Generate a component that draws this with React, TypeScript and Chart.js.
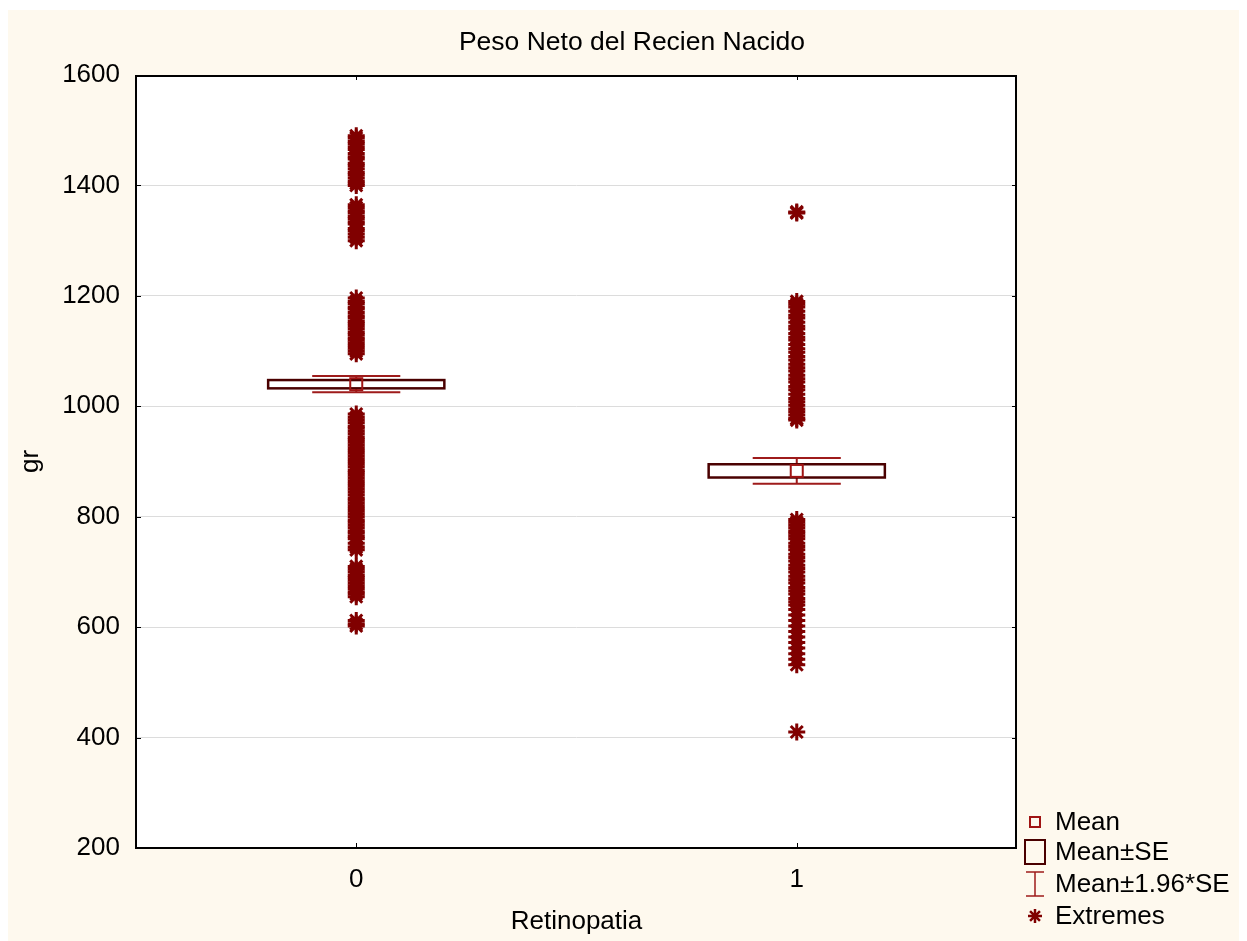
import React, { useEffect, useRef } from "react";
import { Chart, registerables } from "chart.js";

Chart.register(...registerables);

// Groups on the horizontal axis (Retinopatia = 0 / 1)
const groups = ["0", "1"];
// Mean birth weight and its standard error per group (grams)
const means = [1040, 883];
const stdErrors = [7.5, 12];
// Value axis ticks
const yTicks = [200, 400, 600, 800, 1000, 1200, 1400, 1600];

// Extreme observations, group 0
const extremes0 = [
  1490, 1486, 1480, 1476, 1470, 1465, 1458, 1452, 1448, 1440, 1436, 1430, 1424, 1420, 1414, 1408, 1404, 1400,
  1365, 1360, 1354, 1350, 1344, 1340, 1334, 1330, 1322, 1318, 1312, 1306, 1300,
  1196, 1190, 1186, 1180, 1176, 1170, 1164, 1160, 1154, 1150, 1145, 1140, 1134, 1130, 1124, 1120, 1115, 1110, 1105, 1100, 1095,
  986, 980, 975, 970, 964, 960, 955, 950, 944, 940, 935, 930, 925, 920, 915, 910, 905, 900, 895, 890, 884, 880,
  875, 870, 865, 860, 855, 850, 845, 840, 834, 830, 825, 820, 815, 810, 805, 800, 794, 790, 785, 780, 774, 770,
  764, 760, 752, 745, 740,
  710, 705, 700, 694, 690, 685, 680, 675, 670, 664, 660, 655,
  612, 606, 602,
];

// Extreme observations, group 1
const extremes1 = [
  1352, 1350,
  1190, 1185, 1180, 1172, 1165, 1160, 1152, 1145, 1140, 1132, 1125, 1120, 1112, 1104, 1098, 1090, 1084, 1076, 1070,
  1064, 1056, 1050, 1044, 1036, 1030, 1022, 1014, 1008, 1002, 995, 990, 984, 978, 975,
  795, 790, 785, 780, 774, 770, 765, 760, 752, 746, 740, 732, 726, 720, 712, 706, 700, 692, 686, 680, 672, 666,
  660, 652, 646, 640, 632, 622, 612, 602, 592, 582, 572, 562, 552, 542, 532,
  410,
];

const titleText = "Peso Neto del Recien Nacido";
const xTitle = "Retinopatia";
const yTitle = "gr";
const legendLabels = ["Mean", "Mean±SE", "Mean±1.96*SE", "Extremes"];

const FONT_FAMILY = "'Liberation Sans', Arial, Helvetica, sans-serif";
const CREAM = "#fef9ee";
const MARKER = "#800000";
const BOX_EDGE = "#4a0000";
const WHISKER = "#9e1b1b";
const MEAN_EDGE = "#a01414";

const CANVAS_W = 1232;
const CANVAS_H = 931;

function drawAsterisk(ctx: CanvasRenderingContext2D, x: number, y: number, r: number) {
  ctx.beginPath();
  for (let k = 0; k < 4; k++) {
    const a = (k * Math.PI) / 4;
    const dx = Math.cos(a) * r;
    const dy = Math.sin(a) * r;
    ctx.moveTo(x - dx, y - dy);
    ctx.lineTo(x + dx, y + dy);
  }
  ctx.stroke();
}

// Background, boxes, frame, titles and legend
const decorPlugin = {
  id: "decor",
  beforeDraw(chart: any) {
    const { ctx, chartArea: a } = chart;
    ctx.save();
    ctx.fillStyle = CREAM;
    ctx.fillRect(0, 0, chart.width, chart.height);
    ctx.fillStyle = "#ffffff";
    ctx.fillRect(a.left, a.top, a.right - a.left, a.bottom - a.top);
    ctx.restore();
  },
  afterDatasetsDraw(chart: any) {
    const { ctx } = chart;
    const xs = chart.scales.x;
    const ys = chart.scales.y;
    ctx.save();
    means.forEach((m, i) => {
      const se = stdErrors[i];
      const cx = xs.getPixelForValue(i);
      const boxHalf = xs.getPixelForValue(i + 0.2) - cx;
      const capHalf = xs.getPixelForValue(i + 0.1) - cx;
      const yHi = ys.getPixelForValue(m + se);
      const yLo = ys.getPixelForValue(m - se);
      const wHi = ys.getPixelForValue(m + 1.96 * se);
      const wLo = ys.getPixelForValue(m - 1.96 * se);
      const yMean = ys.getPixelForValue(m);

      // whiskers (mean ± 1.96*SE)
      ctx.strokeStyle = WHISKER;
      ctx.lineWidth = 2;
      ctx.beginPath();
      ctx.moveTo(cx, wHi);
      ctx.lineTo(cx, yHi);
      ctx.moveTo(cx, yLo);
      ctx.lineTo(cx, wLo);
      ctx.moveTo(cx - capHalf, wHi);
      ctx.lineTo(cx + capHalf, wHi);
      ctx.moveTo(cx - capHalf, wLo);
      ctx.lineTo(cx + capHalf, wLo);
      ctx.stroke();

      // box (mean ± SE)
      ctx.fillStyle = "#ffffff";
      ctx.fillRect(cx - boxHalf, yHi, boxHalf * 2, yLo - yHi);
      ctx.strokeStyle = BOX_EDGE;
      ctx.lineWidth = 2.5;
      ctx.strokeRect(cx - boxHalf, yHi, boxHalf * 2, yLo - yHi);

      // mean marker
      ctx.strokeStyle = MEAN_EDGE;
      ctx.lineWidth = 2;
      ctx.strokeRect(cx - 6, yMean - 6, 12, 12);
    });
    ctx.restore();
  },
  afterDraw(chart: any) {
    const { ctx, chartArea: a } = chart;
    const xs = chart.scales.x;
    const ys = chart.scales.y;
    ctx.save();

    // inward tick marks
    ctx.strokeStyle = "#000000";
    ctx.lineWidth = 1;
    ctx.beginPath();
    yTicks.forEach((v) => {
      const y = Math.round(ys.getPixelForValue(v)) + 0.5;
      ctx.moveTo(a.left, y);
      ctx.lineTo(a.left + 5, y);
      ctx.moveTo(a.right, y);
      ctx.lineTo(a.right - 5, y);
    });
    groups.forEach((_, i) => {
      const x = Math.round(xs.getPixelForValue(i)) + 0.5;
      ctx.moveTo(x, a.bottom);
      ctx.lineTo(x, a.bottom - 5);
      ctx.moveTo(x, a.top);
      ctx.lineTo(x, a.top + 5);
    });
    ctx.stroke();

    // frame
    ctx.lineWidth = 2;
    ctx.strokeRect(a.left, a.top + 1, a.right - a.left - 1, a.bottom - a.top - 1);

    // titles
    ctx.fillStyle = "#000000";
    ctx.textAlign = "center";
    ctx.textBaseline = "middle";
    ctx.font = `26.5px ${FONT_FAMILY}`;
    ctx.fillText(titleText, 624, 33);
    ctx.font = `26px ${FONT_FAMILY}`;
    ctx.fillText(xTitle, (a.left + a.right) / 2, 912);
    ctx.save();
    ctx.translate(23, (a.top + a.bottom) / 2);
    ctx.rotate(-Math.PI / 2);
    ctx.fillText(yTitle, 0, 0);
    ctx.restore();

    // legend
    const lx = 1027;
    const rows = [812, 842, 874, 906];
    ctx.strokeStyle = MEAN_EDGE;
    ctx.lineWidth = 2;
    ctx.strokeRect(lx - 5, rows[0] - 5, 10, 10);

    ctx.strokeStyle = BOX_EDGE;
    ctx.lineWidth = 2;
    ctx.strokeRect(lx - 10, rows[1] - 12, 20, 24);

    ctx.strokeStyle = WHISKER;
    ctx.lineWidth = 1.5;
    ctx.beginPath();
    ctx.moveTo(lx - 9, rows[2] - 12);
    ctx.lineTo(lx + 9, rows[2] - 12);
    ctx.moveTo(lx, rows[2] - 12);
    ctx.lineTo(lx, rows[2] + 12);
    ctx.moveTo(lx - 9, rows[2] + 12);
    ctx.lineTo(lx + 9, rows[2] + 12);
    ctx.stroke();

    ctx.strokeStyle = MARKER;
    ctx.lineWidth = 2.5;
    drawAsterisk(ctx, lx, rows[3], 7);

    ctx.fillStyle = "#000000";
    ctx.textAlign = "left";
    ctx.textBaseline = "middle";
    ctx.font = `26px ${FONT_FAMILY}`;
    legendLabels.forEach((t, i) => ctx.fillText(t, 1047, rows[i] + 1));
    ctx.restore();
  },
};

export default function App() {
  const canvasRef = useRef<HTMLCanvasElement | null>(null);

  useEffect(() => {
    const canvas = canvasRef.current;
    if (!canvas) return;
    const points = [
      ...extremes0.map((v) => ({ x: 0, y: v })),
      ...extremes1.map((v) => ({ x: 1, y: v })),
    ];
    const tickFont = { family: FONT_FAMILY, size: 26 };
    const chart = new Chart(canvas, {
      type: "scatter",
      data: {
        datasets: [
          {
            label: "Extremes",
            data: points,
            pointStyle: "star",
            pointRadius: 8.5,
            pointHoverRadius: 8.5,
            borderColor: MARKER,
            backgroundColor: MARKER,
            borderWidth: 3,
          },
        ],
      },
      options: {
        responsive: false,
        animation: false,
        events: [],
        devicePixelRatio: 1,
        layout: { padding: { top: 65, right: 223, left: 0, bottom: 0 } },
        plugins: {
          legend: { display: false },
          tooltip: { enabled: false },
          title: { display: false },
        },
        scales: {
          x: {
            type: "linear",
            min: -0.5,
            max: 1.5,
            afterBuildTicks: (s: any) => {
              s.ticks = groups.map((_, i) => ({ value: i }));
            },
            afterFit: (s: any) => {
              s.height = 93;
            },
            grid: { display: false, drawTicks: false },
            border: { display: false },
            ticks: {
              autoSkip: false,
              maxRotation: 0,
              padding: 16,
              color: "#000000",
              font: tickFont,
              callback: (v: any) => groups[v as number] ?? "",
            },
          },
          y: {
            type: "linear",
            min: 200,
            max: 1600,
            afterBuildTicks: (s: any) => {
              s.ticks = yTicks.map((v) => ({ value: v }));
            },
            afterFit: (s: any) => {
              s.width = 128;
            },
            grid: { color: "#dcdcdc", lineWidth: 1, drawTicks: false },
            border: { display: false },
            ticks: {
              padding: 16,
              color: "#000000",
              font: tickFont,
              callback: (v: any) => String(v),
            },
          },
        },
      },
      plugins: [decorPlugin],
    } as any);
    return () => chart.destroy();
  }, []);

  return (
    <div style={{ paddingTop: 2 }}>
      <canvas
        ref={canvasRef}
        width={CANVAS_W}
        height={CANVAS_H}
        style={{ display: "block", width: CANVAS_W, height: CANVAS_H }}
      />
    </div>
  );
}
